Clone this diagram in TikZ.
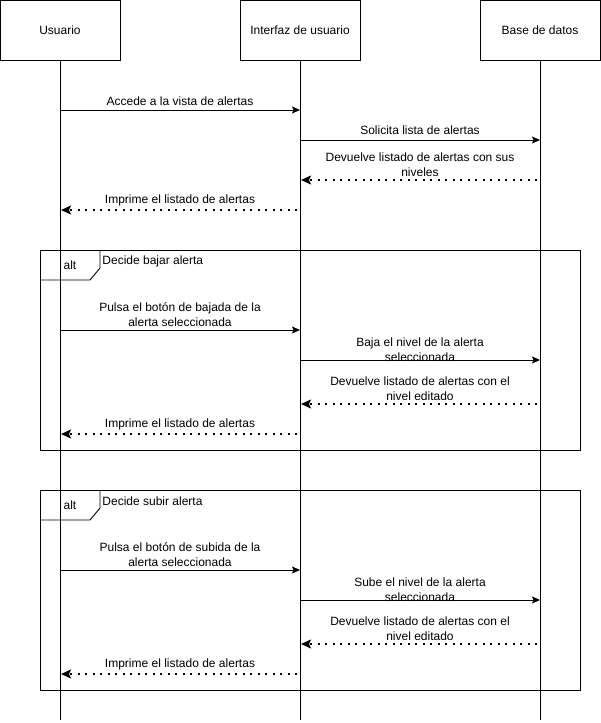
\documentclass[tikz,border=0pt]{standalone}
\usepackage{fontspec}
\setmainfont{Liberation Sans}
\usetikzlibrary{arrows.meta}

\begin{document}
\begin{tikzpicture}[x=1pt, y=-1pt, line width=0.9pt,
  font=\fontsize{12}{15}\selectfont]
\tikzset{actor/.style={draw, rectangle, minimum width=120pt, minimum height=60pt, inner sep=0pt},
  msg/.style={-{Stealth[length=8pt, width=7pt, inset=1.5pt]}},
  rmsg/.style={-{Stealth[length=10pt, width=9pt, inset=2pt]}, dash pattern=on 1.6pt off 5.9pt, line width=1.6pt},
  lbl/.style={align=center, inner sep=0pt},
  frame/.style={draw, line width=0.9pt}}
\useasboundingbox (0,0) rectangle (601,723);
\node[actor] (usr) at (60,30) {Usuario};
\node[actor] (ui) at (300,30) {Interfaz de usuario};
\node[actor] (db) at (540,30) {Base de datos};
\coordinate (usrend) at (60,720);
\coordinate (uiend) at (300,720);
\coordinate (dbend) at (540,720);
% frames
\draw[frame] (40,250) rectangle (580,450);
\draw[frame] (40,280) -- (90,280) -- (100,268) -- (100,250);
\node[lbl] (alt1) at (70,265) {alt};
\node[lbl, anchor=west] (cond1) at (102,261) {Decide bajar alerta};
\draw[frame] (40,490) rectangle (580,690);
\draw[frame] (40,520) -- (90,520) -- (100,508) -- (100,490);
\node[lbl] (alt2) at (70,505) {alt};
\node[lbl, anchor=west] (cond2) at (102,501) {Decide subir alerta};
% lifelines
\draw (usr) -- (usrend);
\draw (ui) -- (uiend);
\draw (db) -- (dbend);
% mensajes
\draw[msg] (usr |- 0,110) -- (ui |- 0,110);
\node[lbl] (m1) at (180,101) {Accede a la vista de alertas};
\draw[msg] (ui |- 0,140) -- (db |- 0,140);
\node[lbl] (m2) at (420,130) {Solicita lista de alertas};
\draw[rmsg] ([xshift=-3pt]db |- 0,180) -- ([xshift=1pt]ui |- 0,180);
\node[lbl] (m3) at (420,165) {Devuelve listado de alertas con sus\\niveles};
\draw[rmsg] ([xshift=-3pt]ui |- 0,210) -- ([xshift=1pt]usr |- 0,210);
\node[lbl] (m4) at (180,200) {Imprime el listado de alertas};
% bajar
\draw[msg] (usr |- 0,330) -- (ui |- 0,330);
\node[lbl] (m5) at (180,315) {Pulsa el botón de bajada de la\\alerta seleccionada};
\draw[msg] (ui |- 0,360) -- (db |- 0,360);
\node[lbl] (m6) at (420,350) {Baja el nivel de la alerta\\seleccionada};
\draw[rmsg] ([xshift=-3pt]db |- 0,404) -- ([xshift=1pt]ui |- 0,404);
\node[lbl] (m7) at (420,389) {Devuelve listado de alertas con el\\nivel editado};
\draw[rmsg] ([xshift=-3pt]ui |- 0,434) -- ([xshift=1pt]usr |- 0,434);
\node[lbl] (m8) at (180,424) {Imprime el listado de alertas};
% subir
\draw[msg] (usr |- 0,570) -- (ui |- 0,570);
\node[lbl] (m9) at (180,555) {Pulsa el botón de subida de la\\alerta seleccionada};
\draw[msg] (ui |- 0,600) -- (db |- 0,600);
\node[lbl] (m10) at (420,590) {Sube el nivel de la alerta\\seleccionada};
\draw[rmsg] ([xshift=-3pt]db |- 0,644) -- ([xshift=1pt]ui |- 0,644);
\node[lbl] (m11) at (420,629) {Devuelve listado de alertas con el\\nivel editado};
\draw[rmsg] ([xshift=-3pt]ui |- 0,674) -- ([xshift=1pt]usr |- 0,674);
\node[lbl] (m12) at (180,664) {Imprime el listado de alertas};
\end{tikzpicture}
\end{document}
